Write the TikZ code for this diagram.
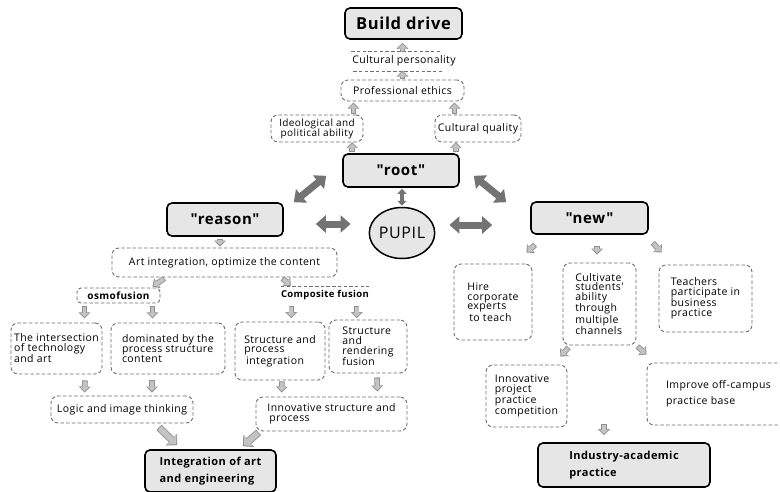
\documentclass[tikz,border=0pt]{standalone}
\usepackage{fontspec}
\setmainfont{Open Sans}[LetterSpace=4,Ligatures=TeXOff]
\usetikzlibrary{arrows.meta,calc,shapes.geometric}
\definecolor{boxgray}{HTML}{E6E6E6}
\definecolor{dashgray}{HTML}{6E6E6E}
\definecolor{arrfill}{HTML}{C4C4C4}
\definecolor{arredge}{HTML}{909090}
\definecolor{darkarr}{HTML}{737373}
\tikzset{
  mainbox/.style={draw=black, line width=1.6pt, fill=boxgray, rounded corners=5pt, inner sep=0pt,
    font=\bfseries\fontsize{15}{17}\selectfont},
  lowbox/.style={draw=black, line width=1.6pt, fill=boxgray, rounded corners=5pt, inner sep=0pt,
    align=left, font=\bfseries\fontsize{11}{17}\selectfont},
  dbox/.style={draw=dashgray, line width=0.9pt, dash pattern=on 3.5pt off 2.2pt, rounded corners=7pt,
    inner sep=0pt, align=left, font=\fontsize{10.5}{9.6}\selectfont},
  dline/.style={draw=dashgray, line width=0.9pt, dash pattern=on 3.5pt off 2.2pt},
  sarr/.style={preaction={draw=arredge, line width=5.6pt, shorten >=0pt, shorten <=0pt,
      -{Triangle[width=11.5pt,length=6pt]}},
    draw=arrfill, line width=3.8pt, shorten >=1.4pt, shorten <=0.9pt,
    -{Triangle[width=8.6pt,length=4.3pt]}},
  marr/.style={preaction={draw=arredge, line width=7.4pt, shorten >=0pt, shorten <=0pt,
      -{Triangle[width=16pt,length=8pt]}},
    draw=arrfill, line width=5.6pt, shorten >=1.4pt, shorten <=0.9pt,
    -{Triangle[width=13pt,length=6.3pt]}},
  barr/.style={draw=darkarr, line width=7pt, {Triangle[width=17pt,length=10pt]}-{Triangle[width=17pt,length=10pt]}},
  tbarr/.style={draw=darkarr, line width=3.5pt, {Triangle[width=9pt,length=5pt]}-{Triangle[width=9pt,length=5pt]}},
}
\begin{document}
\begin{tikzpicture}[x=1pt,y=-1pt]
\fill[white] (0,0) rectangle (780,491);
\useasboundingbox (0,0) rectangle (780,491);

% top part
\node[mainbox, minimum width=117pt, minimum height=31pt, font=\bfseries\fontsize{16.5}{18}\selectfont] (bd) at (403.5,23.5) {Build drive};
\node[inner sep=1pt, font=\fontsize{10.5}{12}\selectfont] (cp) at (404,61) {Cultural personality};
\draw[dline] ($(cp.west)+(0,-10)$) -- ($(cp.east)+(-15,-10)$);
\draw[dline] ($(cp.west)+(2,10)$) -- ($(cp.east)+(-15,10)$);
\node[dbox, minimum width=123pt, minimum height=21pt, font=\fontsize{10.5}{12}\selectfont] (prof) at (402.5,90.5) {Professional ethics};
\node[dbox, minimum width=92pt, minimum height=27pt, align=center, font=\fontsize{10}{10}\selectfont] (ideo) at (317,128.5) {Ideological and\\ political ability};
\node[dbox, minimum width=86pt, minimum height=27pt, font=\fontsize{10.5}{12}\selectfont] (cq) at (478,128.5) {Cultural quality};
\node[mainbox, minimum width=116pt, minimum height=33pt] (root) at (401,170.5) {"root"};
\node[ellipse, draw=black, line width=1.5pt, fill=boxgray, minimum width=60pt, minimum height=51pt, inner sep=0pt,
  font=\fontsize{16}{18}\selectfont] (pupil) at (402,233) {PUPIL};
\node[mainbox, minimum width=116pt, minimum height=33pt] (reason) at (225,219.5) {"reason"};
\node[mainbox, minimum width=117pt, minimum height=32pt] (new) at (589.5,218) {"new"};

\draw[sarr] ($(bd.south)+(-1,12)$) -- ($(bd.south)+(-1,3)$);
\draw[sarr] ($(prof.north)+(0,-1)$) -- ($(prof.north)+(0,-9)$);
\draw[sarr] ($(ideo.north east)+(-10,-1)$) -- ($(ideo.north east)+(-10,-12)$);
\draw[sarr] ($(cq.north west)+(20,-1)$) -- ($(cq.north west)+(20,-12)$);
\draw[sarr] ($(root.north west)+(10,-1)$) -- ($(root.north west)+(10,-11)$);
\draw[sarr] ($(root.north east)+(-4,-1)$) -- ($(root.north east)+(-4,-11)$);

\draw[barr] ($(reason.north east)+(10,0)$) -- ($(root.south west)+(-16,-12)$);
\draw[barr] ($(root.south east)+(14,-12)$) -- ($(new.north west)+(-24,1)$);
\draw[barr] ($(reason.east)+(32,4.5)$) -- ($(pupil.west)+(-18,-9)$);
\draw[barr] ($(pupil.east)+(14,-8)$) -- ($(new.west)+(-38,7)$);
\draw[tbarr] ($(root.south)+(1,1)$) -- ($(pupil.north)+(0,-1)$);

% left part
\node[dbox, minimum width=225pt, minimum height=29pt, font=\fontsize{10.5}{12}\selectfont] (art) at (224.5,262.5) {Art integration, optimize the content};
\node[dbox, rounded corners=4pt, minimum width=83pt, minimum height=15pt, font=\bfseries\fontsize{10}{10}\selectfont] (osmo) at (118.5,295.5) {osmofusion};
\node[inner sep=0pt, minimum width=85pt, minimum height=16pt, font=\bfseries\fontsize{9.5}{10}\selectfont] (comp) at (325,295) {Composite fusion};
\draw[dline] (comp.north west) -- (comp.north east);

\draw[sarr] ($(reason.south)+(-5,2)$) -- ($(art.north)+(-4.5,-1)$);
\draw[sarr] ($(art.south)+(-60,1)$) -- ($(osmo.north east)+(-8,-1)$);
\draw[sarr] ($(art.south)+(58,1)$) -- ($(comp.north west)+(10,-1)$);

\node[dbox, minimum width=91pt, minimum height=51pt] (inter) at (56.5,348.5) {The intersection\\of technology\\and art};
\node[dbox, minimum width=114pt, minimum height=51pt] (dom) at (168,348.5) {dominated by the\\process structure\\content};
\node[dbox, minimum width=90pt, minimum height=58pt] (spi) at (280,351) {Structure and\\process\\\hspace*{2pt}integration};
\node[dbox, minimum width=78pt, minimum height=53pt] (srf) at (368,346.5) {Structure\\and\\rendering\\fusion};

\draw[sarr] ($(osmo.south west)+(8,3)$) -- ($(osmo.south west)+(8,15)$);
\draw[sarr] ($(osmo.south east)+(-8,3)$) -- ($(osmo.south east)+(-8,15)$);
\draw[sarr] ($(comp.south west)+(10.5,3)$) -- ($(comp.south west)+(10.5,15)$);
\draw[sarr] ($(comp.south east)+(-12.5,3)$) -- ($(comp.south east)+(-12.5,15)$);

\node[dbox, minimum width=142pt, minimum height=27pt, font=\fontsize{10.5}{12}\selectfont] (logic) at (122,409.5) {Logic and image thinking};
\node[dbox, minimum width=151pt, minimum height=34pt, font=\fontsize{10.5}{10}\selectfont] (isp) at (331.5,414) {Innovative structure and\\\hspace*{2pt}process};

\draw[sarr] ($(inter.south)+(28.5,6)$) -- ($(logic.north west)+(34,-3)$);
\draw[sarr] ($(dom.south)+(-16,6)$) -- ($(logic.north)+(30,-3)$);
\draw[sarr] ($(spi.south)+(2,1)$) -- ($(isp.north west)+(26,-4)$);
\draw[sarr] ($(srf.south)+(9,4)$) -- ($(isp.north east)+(-30,-5)$);

\node[lowbox, minimum width=131pt, minimum height=42pt] (iae) at (210.5,471) {Integration of art\\and engineering};
\draw[marr] ($(logic.south)+(37,4)$) -- ($(iae.north west)+(33,-4)$);
\draw[marr] ($(isp.south west)+(3,1)$) -- ($(iae.north east)+(-34,-3)$);

% right part
\node[dbox, minimum width=78pt, minimum height=76pt] (hire) at (493,302) {Hire\\corporate\\experts\\\hspace*{2pt}to teach};
\node[dbox, minimum width=73pt, minimum height=82pt] (cult) at (599.5,304) {Cultivate\\students'\\ability\\through\\multiple\\channels};
\node[dbox, minimum width=93pt, minimum height=67pt] (teach) at (705.5,298.5) {Teachers\\participate in\\business\\practice};

\draw[sarr] ($(new.south west)+(5,10)$) -- ($(hire.north east)+(-6,-11)$);
\draw[sarr] ($(new.south)+(7.5,11)$) -- ($(cult.north)+(-2.5,-8)$);
\draw[sarr] ($(new.south east)+(4,8)$) -- ($(teach.north west)+(3,-12)$);

\node[dbox, minimum width=81pt, minimum height=62pt] (ippc) at (526.5,396) {Innovative\\project\\practice\\competition};
\node[dbox, minimum width=143pt, minimum height=62pt, font=\fontsize{10.5}{16}\selectfont] (imp) at (718.5,394) {Improve off-campus\\practice base};

\draw[sarr] ($(cult.south west)+(6,2)$) -- ($(ippc.north east)+(-7,-8)$);
\draw[sarr] ($(cult.south east)+(1,1)$) -- ($(imp.north west)+(0,-8)$);

\node[lowbox, minimum width=172pt, minimum height=44pt] (iap) at (624,465) {Industry-academic\\practice};
\draw[sarr] ($(iap.north)+(-20,-18)$) -- ($(iap.north)+(-20,-7)$);
\end{tikzpicture}
\end{document}
